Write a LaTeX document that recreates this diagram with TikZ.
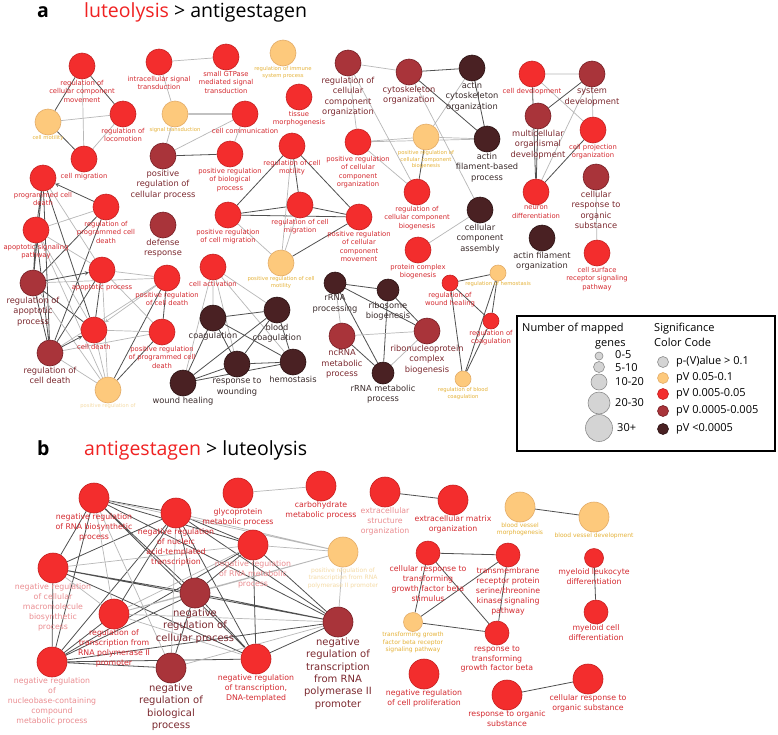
\documentclass[tikz,border=0pt]{standalone}
\usepackage{fontspec}
\newfontfamily\netfont{DejaVu Sans}
\newfontfamily\calfont{Open Sans}
\usetikzlibrary{arrows, backgrounds}

\definecolor{goRed}{HTML}{F32D2D}
\definecolor{goRedB}{HTML}{C42020}
\definecolor{goOrg}{HTML}{FDC97C}
\definecolor{goOrgB}{HTML}{E3AC68}
\definecolor{goDkr}{HTML}{A9343A}
\definecolor{goDkrB}{HTML}{761E24}
\definecolor{goBlk}{HTML}{4A2123}
\definecolor{goBlkB}{HTML}{2A1112}
\definecolor{goGry}{HTML}{D4D4D4}
\definecolor{txRed}{HTML}{D42A30}
\definecolor{txDkr}{HTML}{7C2A30}
\definecolor{txBlk}{HTML}{3B2C2C}
\definecolor{txOrg}{HTML}{E5B238}
\definecolor{txPink}{HTML}{EB8E92}
\definecolor{txPale}{HTML}{F5DBA6}
\definecolor{edDk}{HTML}{505050}
\definecolor{edLt}{HTML}{B8B8B8}
\definecolor{ttRed}{HTML}{F02222}

\begin{document}
\begin{tikzpicture}[x=1pt, y=-1pt, >=stealth,
    go/.style={circle, line width=0.6pt, inner sep=0pt, minimum size=26pt},
    rd/.style={go, draw=goRedB, fill=goRed},
    og/.style={go, draw=goOrgB, fill=goOrg},
    dr/.style={go, draw=goDkrB, fill=goDkr},
    bk/.style={go, draw=goBlkB, fill=goBlk},
    gy/.style={go, draw=black!45, fill=goGry},
    sz/.style={minimum size=#1},
    lab/.style={align=center, inner sep=0.4pt},
    aR/.style={lab, font=\netfont\fontsize{6.8}{8.5}\selectfont, text=txRed},
    aD/.style={lab, font=\netfont\fontsize{8.3}{10.4}\selectfont, text=txDkr},
    aK/.style={lab, font=\netfont\fontsize{8.3}{10.4}\selectfont, text=txBlk},
    aO/.style={lab, font=\netfont\fontsize{5.3}{6.5}\selectfont, text=txOrg},
    aQ/.style={lab, font=\netfont\fontsize{5.2}{6.5}\selectfont, text=txPale},
    bR/.style={lab, font=\netfont\fontsize{7.8}{9.8}\selectfont, text=txRed},
    bP/.style={lab, font=\netfont\fontsize{7.8}{9.8}\selectfont, text=txPink},
    bD/.style={lab, font=\netfont\fontsize{10}{12.3}\selectfont, text=txDkr},
    bO/.style={lab, font=\netfont\fontsize{6}{7.4}\selectfont, text=txOrg},
    bQ/.style={lab, font=\netfont\fontsize{6}{7.4}\selectfont, text=txPale},
    title/.style={anchor=base west, inner sep=0pt, font=\calfont\fontsize{19.5}{23}\selectfont},
    panel/.style={title, font=\calfont\bfseries\fontsize{19.5}{23}\selectfont},
    key/.style={anchor=base west, inner sep=0pt, font=\calfont\fontsize{11}{13}\selectfont},
    dk/.style={draw=edDk, line width=0.8pt},
    lt/.style={draw=edLt, line width=0.7pt}
]
\useasboundingbox (0,0) rectangle (778,734);

% titles
\node (ta) [panel] at (37,17) {a};
\node (tta) [title] at (84,17) {\textcolor{ttRed}{luteolysis} > antigestagen};
\node (tb) [panel] at (37,455) {b};
\node (ttb) [title] at (84,455) {\textcolor{ttRed}{antigestagen} > luteolysis};

% panel a
\node (cmov) [rd, label={[aR]below:{regulation of\\cellular component\\movement}}] at (82,66) {};
\node (isig) [rd, label={[aR]below:{intracellular signal\\transduction}}] at (159,62) {};
\node (gtp) [rd, label={[aR]below:{small GTPase\\mediated signal\\transduction}}] at (226,57) {};
\node (imm) [og, label={[aO]below:{regulation of immune\\system process}}] at (283,53) {};
\node (tmor) [rd, label={[aR]below:{tissue\\morphogenesis}}] at (299,97) {};
\node (rcco) [dr, label={[aD]below:{regulation of\\cellular\\component\\organization}}] at (348,63) {};
\node (cyto) [dr, label={[aD]below:{cytoskeleton\\organization}}] at (409,72) {};
\node (acyto) [bk, label={[aK]below:{actin\\cytoskeleton\\organization}}] at (472,68) {};
\node (cdev) [rd, label={[aR]below:{cell development}}] at (532,74) {};
\node (sdev) [dr, label={[aD]below:{system\\development}}] at (592,74) {};
\node (motil) [og, label={[aO]below:{cell motility}}] at (48,122) {};
\node (loco) [rd, label={[aR]below:{regulation of\\locomotion}}] at (123,114) {};
\node (sigt) [og, label={[aO]below:{signal transduction}}] at (175,114) {};
\node (comm) [rd, label={[aR]below:{cell communication}}] at (245,114) {};
\node (mdev) [dr, label={[aD]below:{multicellular\\organismal\\development}}] at (538,116) {};
\node (cproj) [rd, label={[aR]below:{cell projection\\organization}}] at (593,130) {};
\node (mig) [rd, label={[aR]below:{cell migration}}] at (84,159) {};
\node (pcp) [dr, label={[aD]below:{positive\\regulation of\\cellular process}}] at (163,156) {};
\node (pbp) [rd, label={[aR]below:{positive regulation\\of biological\\process}}] at (230,154) {};
\node (rmot) [rd, label={[aR]below:{regulation of cell\\motility}}] at (292,146) {};
\node (pcco) [rd, label={[aR]below:{positive regulation\\of cellular\\component\\organization}}] at (358,142) {};
\node (pccb) [og, label={[aO]below:{positive regulation of\\cellular component\\biogenesis}}] at (426,137) {};
\node (afbp) [bk, label={[aK]below:{actin\\filament-based\\process}}] at (487,139) {};
\node (pcd) [rd, label={[aR]below:{programmed cell\\death}}] at (43,178) {};
\node (cros) [dr, label={[aD]below:{cellular\\response to\\organic\\substance}}] at (596,177) {};
\node (neur) [rd, label={[aR]below:{neuron\\differentiation}}] at (536,192) {};
\node (rccb) [rd, label={[aR]below:{regulation of\\cellular component\\biogenesis}}] at (417,192) {};
\node (rpcd) [rd, label={[aR]below:{regulation of\\programmed cell\\death}}] at (106,207) {};
\node (defr) [dr, label={[aD]below:{defense\\response}}] at (163,225) {};
\node (pcmig) [rd, label={[aR]below:{positive regulation\\of cell migration}}] at (228,215) {};
\node (rcmig) [rd, label={[aR]below:{regulation of cell\\migration}}] at (300,205) {};
\node (pccm) [rd, label={[aR]below:{positive regulation\\of cellular\\component\\movement}}] at (359,217) {};
\node (cca) [bk, label={[aK]below:{cellular\\component\\assembly}}] at (480,210) {};
\node (asp) [rd, label={[aR]below:{apoptotic signaling\\pathway}}] at (36,230) {};
\node (afo) [bk, label={[aK]below:{actin filament\\organization}}] at (542,238) {};
\node (pcb) [rd, label={[aR]below:{protein complex\\biogenesis}}] at (418,250) {};
\node (csr) [rd, label={[aR]below:{cell surface\\receptor signaling\\pathway}}] at (597,253) {};
\node (pcmot) [og, label={[aO]below:{positive regulation of cell\\motility}}] at (281,263) {};
\node (cact) [rd, label={[aR]below:{cell activation}}] at (213,267) {};
\node (apop) [rd, label={[aR]below:{apoptotic process}}] at (102,270) {};
\node (rap) [dr, label={[aD]below:{regulation of\\apoptotic\\process}}] at (33,283) {};
\node (pcdth) [rd, label={[aR]below:{positive regulation\\of cell death}}] at (167,278) {};
\node (rrnap) [bk, sz=22pt, label={[aK]below:{rRNA\\processing}}] at (335,283) {};
\node (ribo) [bk, sz=22pt, label={[aK]below:{ribosome\\biogenesis}}] at (388,290) {};
\node (rwh) [rd, sz=16pt, label={[aR]below:{regulation of\\wound healing}}] at (450,283) {};
\node (rhem) [og, sz=16pt, label={[aO]below:{regulation of hemostasis}}] at (498,273) {};
\node (coag) [bk, label={[aK]below:{coagulation}}] at (213,318) {};
\node (bcoag) [bk, label={[aK]below:{blood\\coagulation}}] at (277,310) {};
\node (rcoag) [rd, sz=16pt, label={[aR]below:{regulation of\\coagulation}}] at (491,321) {};
\node (cdth) [rd, label={[aR]below:{cell death}}] at (94,330) {};
\node (ppcd) [rd, label={[aR]below:{positive regulation\\of programmed cell\\death}}] at (162,332) {};
\node (ncrna) [dr, label={[aD]below:{ncRNA\\metabolic\\process}}] at (342,336) {};
\node (rnp) [dr, label={[aD]below:{ribonucleoprotein\\complex\\biogenesis}}] at (427,331) {};
\node (rcd) [dr, label={[aD]below:{regulation of\\cell death}}] at (50,353) {};
\node (wound) [bk, label={[aK]below:{response to\\wounding}}] at (237,364) {};
\node (hemo) [bk, label={[aK]below:{hemostasis}}] at (293,362) {};
\node (rrnam) [bk, sz=22pt, label={[aK]below:{rRNA metabolic\\process}}] at (383,373) {};
\node (rbc) [og, sz=16pt, label={[aO]below:{regulation of blood\\coagulation}}] at (463,379) {};
\node (heal) [bk, label={[aK]below:{wound healing}}] at (183,383) {};
\node (pact) [og, label={[aQ]below:{positive regulation of}}] at (108,390) {};

% legend
\draw[line width=1.4pt] (517,316) rectangle (775,451);
\node (kn) [key] at (522,331) {Number of mapped};
\node (kg) [key] at (595,346) {genes};
\node (ks) [key] at (654,331) {Significance};
\node (kc) [key] at (654,346) {Color Code};
\node (s1) [gy, sz=8pt] at (599,356) {};
\node (s2) [gy, sz=11pt] at (599,367) {};
\node (s3) [gy, sz=16pt] at (599,382) {};
\node (s4) [gy, sz=22pt] at (599,403) {};
\node (s5) [gy, sz=27pt] at (599,428) {};
\node [key, anchor=west] at (615,355) {0-5};
\node [key, anchor=west] at (615,368) {5-10};
\node [key, anchor=west] at (615,382) {10-20};
\node [key, anchor=west] at (615,403) {20-30};
\node [key, anchor=west] at (617,428) {30+};
\node (c1) [gy, sz=11pt] at (663,362) {};
\node (c2) [og, sz=11pt] at (663,378) {};
\node (c3) [rd, sz=11pt] at (663,394) {};
\node (c4) [dr, sz=11pt] at (663,411) {};
\node (c5) [bk, sz=11pt] at (663,429) {};
\node [key, anchor=west] at (676,362) {p-(V)alue > 0.1};
\node [key, anchor=west] at (676,378) {pV 0.05-0.1};
\node [key, anchor=west] at (676,394) {pV 0.005-0.05};
\node [key, anchor=west] at (676,411) {pV 0.0005-0.005};
\node [key, anchor=west] at (676,429) {pV <0.0005};

% panel b
\node (nrb) [rd, sz=30pt, label={[bR]below:{negative regulation\\of RNA biosynthetic\\process}}] at (94,498) {};
\node (nnat) [rd, sz=30pt, label={[bR]below:{negative regulation\\of nucleic\\acid-templated\\transcription}}] at (176,513) {};
\node (glyc) [rd, sz=30pt, label={[bR]below:{glycoprotein\\metabolic process}}] at (238,493) {};
\node (carb) [rd, sz=30pt, label={[bR]below:{carbohydrate\\metabolic process}}] at (321,486) {};
\node (ecs) [rd, sz=30pt, label={[bP]below:{extracellular\\structure\\organization}}] at (385,492) {};
\node (ecm) [rd, sz=30pt, label={[bR]below:{extracellular matrix\\organization}}] at (453,500) {};
\node (bvm) [og, sz=30pt, label={[bO]below:{blood vessel\\morphogenesis}}] at (520,507) {};
\node (bvd) [og, sz=30pt, label={[bO]below:{blood vessel development}}] at (594,517) {};
\node (nrm) [rd, sz=30pt, label={[bP]below:{negative regulation\\of RNA metabolic\\process}}] at (253,545) {};
\node (ptr) [og, sz=30pt, label={[bQ]below:{positive regulation of\\transcription from RNA\\polymerase II promoter}}] at (343,552) {};
\node (crtgf) [rd, sz=24pt, label={[bR]below:{cellular response to\\transforming\\growth factor beta\\stimulus}}] at (428,553) {};
\node (tmr) [rd, sz=24pt, label={[bR]below:{transmembrane\\receptor protein\\serine/threonine\\kinase signaling\\pathway}}] at (508,555) {};
\node (mld) [rd, sz=19pt, label={[bR]below:{myeloid leukocyte\\differentiation}}] at (594,558) {};
\node (nmac) [rd, sz=30pt, label={[bP]below:{negative regulation\\of cellular\\macromolecule\\biosynthetic\\process}}] at (53,568) {};
\node (ncp) [dr, sz=30pt, label={[bD]below:{negative\\regulation of\\cellular process}}] at (195,593) {};
\node (rtr) [rd, sz=30pt, label={[bR]below:{regulation of\\transcription from\\RNA polymerase II\\promoter}}] at (114,614) {};
\node (mcd) [rd, sz=24pt, label={[bR]below:{myeloid cell\\differentiation}}] at (596,612) {};
\node (nrtr) [dr, sz=30pt, label={[bD]below:{negative\\regulation of\\transcription\\from RNA\\polymerase II\\promoter}}] at (338,622) {};
\node (tgfr) [og, sz=19pt, label={[bO]below:{transforming growth\\factor beta receptor\\signaling pathway}}] at (413,622) {};
\node (rtgf) [rd, sz=24pt, label={[bR]below:{response to\\transforming\\growth factor beta}}] at (497,633) {};
\node (nnuc) [rd, sz=30pt, label={[bP]below:{negative regulation\\of\\nucleobase-containing\\compound\\metabolic process}}] at (52,662) {};
\node (nbp) [dr, sz=30pt, label={[bD]below:{negative\\regulation of\\biological\\process}}] at (171,668) {};
\node (ntd) [rd, sz=30pt, label={[bR]below:{negative regulation\\of transcription,\\DNA-templated}}] at (256,659) {};
\node (ncpr) [rd, sz=30pt, label={[bR]below:{negative regulation\\of cell proliferation}}] at (424,674) {};
\node (ros) [rd, sz=30pt, label={[bR]below:{response to organic\\substance}}] at (507,695) {};
\node (cros2) [rd, sz=30pt, label={[bR]below:{cellular response to\\organic substance}}] at (588,679) {};

% connectors
\begin{scope}[on background layer]
\fill[white] (0,0) rectangle (778,734);
\draw[lt] (cmov) -- (mig) (motil) -- (loco) (loco) -- (mig) (isig) -- (gtp) (isig) -- (sigt)
    (sigt) -- (pcp) (pcp) -- (comm) (comm) -- (pbp);
\draw[dk] (cmov) -- (motil) (cmov) -- (loco) (motil) -- (mig) (sigt) -- (comm) (pcp) -- (pbp);
% apoptosis
\draw[dk] (pcd) -- (asp) (pcd) -- (rap) (pcd) -- (rcd) (pcd) -- (cdth) (rpcd) -- (rap) (rpcd) -- (rcd)
    (asp) -- (rap) (asp) -- (rcd) (rap) -- (cdth) (rap) -- (rcd) (apop) -- (cdth) (apop) -- (rcd)
    (pcdth) -- (ppcd) (pcdth) -- (pact) (ppcd) -- (pact);
\draw[lt] (pcd) -- (apop) (rpcd) -- (asp) (asp) -- (cdth) (asp) -- (apop) (asp) -- (pact)
    (rap) -- (pcdth) (rap) -- (pact) (apop) -- (pcdth) (apop) -- (ppcd) (apop) -- (pact)
    (pcdth) -- (rcd) (ppcd) -- (cdth) (ppcd) -- (rcd) (rcd) -- (pact) (cdth) -- (pact);
\draw[dk, ->] (rpcd) -- (pcd);
\draw[dk, ->] (rap) -- (apop);
\draw[dk, ->] (rcd) -- (cdth);
\draw[lt, ->] (pcdth) -- (cdth);
% coagulation
\draw[lt] (cact) -- (coag) (cact) -- (heal) (cact) -- (wound) (cact) -- (hemo) (cact) -- (bcoag);
\draw[dk] (coag) -- (bcoag) (coag) -- (wound) (coag) -- (heal) (coag) -- (hemo) (bcoag) -- (heal)
    (bcoag) -- (wound) (bcoag) -- (hemo) (heal) -- (wound) (heal) -- (hemo) (wound) -- (hemo);
% motility
\draw[dk] (rmot) -- (pcmig) (rmot) -- (rcmig) (rmot) -- (pccm) (pcmig) -- (rcmig) (pcmig) -- (pccm)
    (rcmig) -- (pccm) (pccm) -- (pcmot);
\draw[lt] (pcmig) -- (pcmot) (rcmig) -- (pcmot) (rmot) -- (pcmot);
% cellular component
\draw[lt] (rcco) -- (cyto) (rcco) -- (pcco) (rcco) -- (rccb) (cyto) -- (cca) (acyto) -- (pccb)
    (pcco) -- (pccb) (pcco) -- (afbp) (pccb) -- (afbp) (pcco) -- (rccb) (pcb) -- (cca);
\draw[dk] (cyto) -- (acyto) (cyto) -- (afbp) (acyto) -- (afbp) (pccb) -- (rccb);
% development
\draw[lt] (cdev) -- (sdev) (cdev) -- (cproj) (sdev) -- (cproj) (sdev) -- (neur) (cros) -- (csr);
\draw[dk] (cdev) -- (neur) (mdev) -- (sdev) (mdev) -- (neur) (cproj) -- (neur);
% hemostasis
\draw[dk] (rwh) -- (rhem) (rwh) -- (rcoag) (rwh) -- (rbc) (rhem) -- (rcoag) (rhem) -- (rbc) (rcoag) -- (rbc);
% rRNA
\draw[dk] (rrnap) -- (ribo) (rrnap) -- (rnp) (rrnap) -- (rrnam) (ribo) -- (rnp) (ribo) -- (rrnam)
    (ncrna) -- (rrnam);
\draw[lt] (rrnap) -- (ncrna) (ncrna) -- (rnp) (rnp) -- (rrnam);
% panel b
\draw[dk] (nrb) -- (nnat) (nrb) -- (nrm) (nrb) -- (nmac) (nrb) -- (ncp) (nrb) -- (nnuc) (nrb) -- (ntd)
    (nrb) -- (nrtr) (nnat) -- (nrm) (nnat) -- (nmac) (nnat) -- (rtr) (nnat) -- (ncp) (nnat) -- (nnuc)
    (nnat) -- (ntd) (nnat) -- (nrtr) (nrm) -- (ncp) (nrm) -- (nnuc) (nrm) -- (ntd) (nrm) -- (nrtr)
    (nmac) -- (ncp) (nmac) -- (nnuc) (nmac) -- (ntd) (nmac) -- (nrtr) (rtr) -- (nnuc) (ncp) -- (nnuc)
    (ncp) -- (nbp) (ncp) -- (ntd) (ncp) -- (nrtr) (nnuc) -- (nbp) (nnuc) -- (ntd) (nnuc) -- (nrtr)
    (ntd) -- (nrtr);
\draw[lt] (nrb) -- (rtr) (nrb) -- (nbp) (nrb) -- (ptr) (nnat) -- (ptr) (nnat) -- (nbp) (nrm) -- (nmac)
    (nrm) -- (rtr) (nrm) -- (ptr) (nmac) -- (rtr) (rtr) -- (ncp) (rtr) -- (ntd) (rtr) -- (nrtr)
    (rtr) -- (ptr) (ncp) -- (ptr) (nbp) -- (nrtr) (ptr) -- (nrtr) (glyc) -- (carb);
\draw[dk] (ecs) -- (ecm) (bvm) -- (bvd) (crtgf) -- (tmr) (crtgf) -- (tgfr) (crtgf) -- (rtgf)
    (tmr) -- (tgfr) (tmr) -- (rtgf) (tgfr) -- (rtgf) (mld) -- (mcd) (ros) -- (cros2);
\end{scope}
\end{tikzpicture}
\end{document}
